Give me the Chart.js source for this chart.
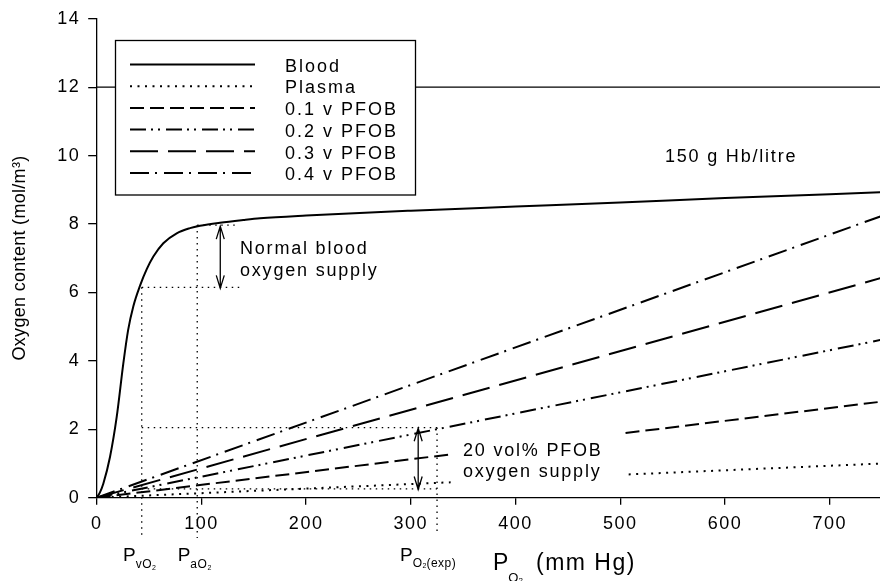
<!DOCTYPE html>
<html>
<head>
<meta charset="utf-8">
<script src="https://cdn.jsdelivr.net/npm/chart.js@4.4.0/dist/chart.umd.min.js"></script>
<style>
  html, body { margin: 0; padding: 0; background: #fff; }
  #wrap { width: 880px; height: 581px; }
</style>
</head>
<body>
<div id="wrap"><canvas id="o2Chart" width="880" height="581"></canvas></div>
<script>
// Blood O2 content curve
const bloodP = [0, 3, 6.3, 12.7, 19.1, 25.4, 30, 35, 41.4, 47.8, 54.1, 63.6, 76.4, 89.1, 98.7, 117.8, 140, 156, 200, 300, 400, 500, 600, 750];
const bloodC = [0, 0.15, 0.41, 1.19, 2.36, 3.92, 4.9, 5.6, 6.2, 6.68, 7.05, 7.44, 7.73, 7.88, 7.95, 8.04, 8.12, 8.17, 8.25, 8.39, 8.51, 8.63, 8.76, 8.93];

// straight lines; null = the gap left for the "20 vol% PFOB" text
const plasmaP = [0, 338, 420, 508, 750];
const plasmaC = [0, 0.45, null, 0.68, 1.0];
const pfob1P = [0, 339, 420, 505, 750];
const pfob1C = [0, 1.27, null, 1.89, 2.81];
const pfobP = [0, 750];
const pfob2C = [0, 4.62];
const pfob3C = [0, 6.43];
const pfob4C = [0, 8.24];

// stray horizontal rule at 12
const ruleP = [0, 750];
const ruleC = [12, 12];

// dotted guide segments [x0, x1] / [y0, y1]
const guideX = [[43, 43], [96, 96], [325, 325], [43, 137], [96, 134], [43, 325], [43, 325]];
const guideY = [[6.15, -1.18], [7.97, -1.18], [2.05, -1.1], [6.15, 6.15], [7.97, 7.97], [2.05, 2.05], [0.26, 0.26]];

// double arrows
const arrowX = [118, 307];
const arrowTop = [7.94, 2.03];
const arrowBot = [6.12, 0.24];

const seriesNames = ['Blood', 'Plasma', '0.1 v PFOB', '0.2 v PFOB', '0.3 v PFOB', '0.4 v PFOB'];
const fam = "'Liberation Sans', Arial, Helvetica, sans-serif";

function line(label, P, C, dash, extra) {
    return Object.assign({
        label: label,
        data: P.map((p, i) => ({ x: p, y: C[i] })),
        showLine: true,
        borderColor: '#000',
        borderWidth: 2,
        borderDash: dash,
        pointRadius: 0,
        fill: false,
        spanGaps: false,
        tension: 0
    }, extra || {});
}

const series = [
    line(seriesNames[0], bloodP, bloodC, [], { cubicInterpolationMode: 'monotone' }),
    line(seriesNames[1], plasmaP, plasmaC, [2, 5.5]),
    line(seriesNames[2], pfob1P, pfob1C, [14, 6]),
    line(seriesNames[3], pfobP, pfob2C, [16, 5, 2, 5, 2, 6]),
    line(seriesNames[4], pfobP, pfob3C, [28, 10]),
    line(seriesNames[5], pfobP, pfob4C, [19, 6, 2, 7])
];

const extras = [line('rule', ruleP, ruleC, [], { borderWidth: 1.3 })];
guideX.forEach((gx, i) => {
    extras.push(line('guide' + i, gx, guideY[i], [1.5, 4.5], { borderWidth: 1.3, clip: false }));
});

function sub(ctx, x, y, parts) {
    parts.forEach(p => {
        ctx.font = p.size + 'px ' + fam;
        ctx.letterSpacing = (p.ls || 0) + 'px';
        ctx.fillText(p.t, x, y + (p.dy || 0));
        x += ctx.measureText(p.t).width;
    });
}

const decor = {
    id: 'decor',
    beforeDraw(chart) {
        chart.ctx.letterSpacing = '1.5px';
    },
    afterDatasetsDraw(chart) {
        const ctx = chart.ctx;
        const xs = chart.scales.x, ys = chart.scales.y;
        ctx.save();
        ctx.strokeStyle = '#000';
        ctx.fillStyle = '#000';
        ctx.lineWidth = 1.3;
        ctx.setLineDash([]);

        // arrows
        arrowX.forEach((ax, i) => {
            const x = xs.getPixelForValue(ax);
            const t = ys.getPixelForValue(arrowTop[i]);
            const b = ys.getPixelForValue(arrowBot[i]);
            ctx.beginPath();
            ctx.moveTo(x, t); ctx.lineTo(x, b);
            ctx.moveTo(x - 4, t + 13); ctx.lineTo(x, t); ctx.lineTo(x + 4, t + 13);
            ctx.moveTo(x - 4, b - 13); ctx.lineTo(x, b); ctx.lineTo(x + 4, b - 13);
            ctx.stroke();
        });

        // legend box
        ctx.fillStyle = '#fff';
        ctx.fillRect(115.5, 40.5, 300, 154.5);
        ctx.strokeRect(115.5, 40.5, 300, 154.5);
        ctx.fillStyle = '#000';
        const rows = [64.5, 86.2, 107.9, 129.6, 151.3, 173];
        series.forEach((ds, i) => {
            ctx.lineWidth = ds.borderWidth;
            ctx.setLineDash(ds.borderDash);
            ctx.beginPath();
            ctx.moveTo(130, rows[i]);
            ctx.lineTo(255, rows[i]);
            ctx.stroke();
            ctx.font = '18px ' + fam;
            ctx.letterSpacing = '2px';
            ctx.textBaseline = 'alphabetic';
            ctx.textAlign = 'left';
            ctx.fillText(ds.label, 285, rows[i] + 7.2);
        });
        ctx.setLineDash([]);

        // annotations
        ctx.font = '18px ' + fam;
        ctx.letterSpacing = '1.8px';
        ctx.fillText('150 g Hb/litre', 665, 162);
        ctx.fillText('Normal blood', 240, 254);
        ctx.fillText('oxygen supply', 240, 276);
        ctx.fillText('20 vol% PFOB', 463, 456);
        ctx.fillText('oxygen supply', 463, 477);

        // pressure markers under the axis
        sub(ctx, 123, 561, [{ t: 'P', size: 19 }, { t: 'vO', size: 12, dy: 7, ls: 0.5 }, { t: '2', size: 7, dy: 9 }]);
        sub(ctx, 177.7, 561, [{ t: 'P', size: 19 }, { t: 'aO', size: 12, dy: 7, ls: 0.5 }, { t: '2', size: 7, dy: 9 }]);
        sub(ctx, 400, 561, [{ t: 'P', size: 19 }, { t: 'O', size: 12, dy: 6, ls: 0.5 }, { t: '2', size: 7, dy: 7 }, { t: '(exp)', size: 12, dy: 6, ls: 0.5 }]);

        // x title
        sub(ctx, 493, 570, [{ t: 'P', size: 23 }, { t: 'O', size: 13, dy: 12 }, { t: '2', size: 8, dy: 13 }]);
        ctx.font = '23px ' + fam;
        ctx.letterSpacing = '1.5px';
        ctx.fillText('(mm Hg)', 536, 570);

        // y title
        ctx.translate(20, 258);
        ctx.rotate(-Math.PI / 2);
        ctx.font = '18px ' + fam;
        ctx.letterSpacing = '0.3px';
        ctx.textAlign = 'center';
        ctx.textBaseline = 'middle';
        ctx.fillText('Oxygen content (mol/m\u00B3)', 0, 0);
        ctx.restore();
    }
};

new Chart(document.getElementById('o2Chart'), {
    type: 'scatter',
    data: { datasets: series.concat(extras) },
    options: {
        responsive: false,
        animation: false,
        devicePixelRatio: 1,
        layout: { padding: { top: 7.5, right: 0, bottom: 0, left: 0 } },
        plugins: { legend: { display: false }, tooltip: { enabled: false } },
        scales: {
            x: {
                type: 'linear',
                min: 0,
                max: 748,
                afterFit(scale) { scale.height = 83.3; },
                border: { color: '#000', width: 1.3 },
                grid: { display: true, drawOnChartArea: false, drawTicks: true, tickLength: 7, color: '#000', lineWidth: 1.3 },
                ticks: { stepSize: 100, includeBounds: false, color: '#000', padding: 9, maxRotation: 0, font: { family: fam, size: 18 } }
            },
            y: {
                min: 0,
                max: 14,
                afterFit(scale) { scale.width = 96.7; },
                border: { color: '#000', width: 1.3 },
                grid: { display: true, drawOnChartArea: false, drawTicks: true, tickLength: 8.5, color: '#000', lineWidth: 1.3 },
                ticks: { stepSize: 2, color: '#000', padding: 8, font: { family: fam, size: 18 } }
            }
        }
    },
    plugins: [decor]
});
</script>
</body>
</html>
